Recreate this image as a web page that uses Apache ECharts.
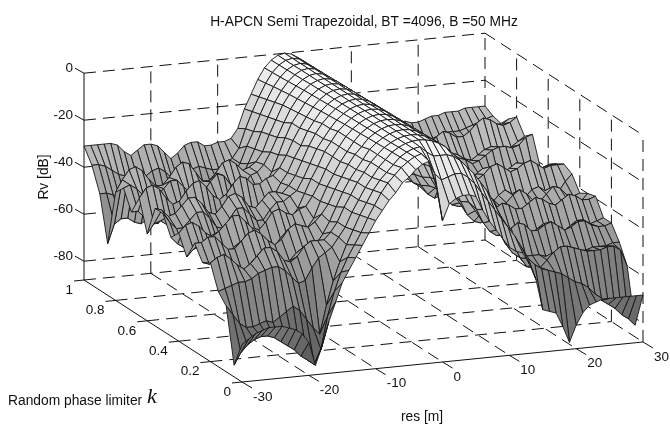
<!DOCTYPE html>
<html><head><meta charset="utf-8">
<style>html,body{margin:0;padding:0;background:#fff}#c{width:670px;height:428px}</style>
<script src="https://cdn.jsdelivr.net/npm/echarts@6/dist/echarts.min.js"></script>
</head><body><div id="c"></div>
<script>
// res axis: -30..30 step 1; rows below run k = 1.00 down to 0.00 step 0.05 (values in dB)
const k100=[-31,-31,-31,-31,-31,-32,-35,-37,-35,-33, -33,-34,-37,-40,-38,-35,-34,-34,-36,-36, -35,-35,-34,-30,-22,-16,-10,-5.4,-2.4,-.6, 0, -.6,-2.4,-5.4,-10,-16,-22,-29,-33,-35,-37, -36,-34,-33,-34,-36,-37,-35,-34,-35,-35, -34,-33,-33,-32,-32,-32,-31,-31,-31,-31];
const k095=[-37,-37,-38,-40,-42,-43,-45,-46,-44,-42, -41,-43,-46,-48,-46,-43,-42,-43,-44,-44, -42,-40,-36,-28,-21,-15,-9.5,-5.2,-2.3,-.6, 0, -.6,-2.3,-5.2,-9.5,-15,-21,-28,-36,-41,-43, -42,-40,-39,-41,-43,-44,-41,-40,-41,-41, -40,-39,-38,-38,-38,-37,-36,-35,-34,-33];
const k090=[-47,-47,-48,-50,-52,-51,-49,-48,-50,-52, -53,-52,-50,-49,-50,-52,-53,-51,-49,-46, -44,-40,-33,-27,-20,-14,-8.8,-5,-2.2,-.6, 0, -.6,-2.2,-5,-8.8,-14,-20,-27,-33,-39,-43, -45,-44,-43,-45,-47,-47,-45,-44,-45,-44, -43,-43,-41,-40,-40,-40,-38,-36,-35,-34];
const k085=[-66,-58,-56,-56,-58,-59,-57,-55,-55,-57, -59,-59,-57,-55,-55,-57,-58,-56,-53,-48, -44,-38,-32,-25,-19,-13,-8.3,-4.7,-2.1,-.5, 0, -.5,-2.1,-4.7,-8.3,-13,-19,-25,-32,-38,-44, -48,-48,-46,-48,-50,-49,-47,-46,-45,-42, -40,-38,-37,-37,-36,-35,-34,-33,-32,-30];
const k080=[-42,-37,-33,-32,-34,-38,-41,-41,-38,-34, -32,-33,-37,-41,-41,-38,-34,-33,-35,-38, -37,-35,-31,-24,-18,-12,-7.8,-4.4,-2,-.5, 0, -.5,-2,-4.4,-7.8,-12,-18,-24,-31,-35,-38, -37,-35,-33,-35,-38,-38,-35,-32,-30,-31, -33,-33,-31,-28,-26,-27,-29,-30,-29,-27];
const k075=[-38,-37,-39,-42,-44,-43,-40,-37,-37,-40, -43,-45,-43,-39,-36,-37,-41,-43,-42,-38, -37,-34,-29,-23,-17,-11.5,-7.4,-4.1,-1.8,-.5, 0, -.5,-1.8,-4.1,-7.4,-11.5,-17,-23,-29,-35,-40, -42,-40,-38,-39,-42,-44,-42,-39,-37,-38, -40,-41,-39,-37,-36,-37,-38,-37,-35,-33];
const k070=[-46,-46,-49,-52,-52,-49,-46,-46,-49,-52, -53,-50,-47,-45,-46,-50,-52,-50,-46,-43, -41,-35,-28,-21,-15,-11,-7,-3.9,-1.7,-.4, 0, -.4,-1.7,-3.9,-7,-11,-15,-21,-27,-33,-39, -43,-43,-41,-43,-46,-46,-42,-39,-37,-38, -40,-39,-37,-35,-34,-34,-35,-34,-31,-30];
const k065=[-38,-34,-33,-35,-39,-42,-41,-37,-34,-33, -36,-40,-42,-40,-36,-33,-34,-37,-37,-35, -34,-31,-26,-20,-15,-10.5,-6.6,-3.7,-1.6,-.4, 0, -.4,-1.6,-3.7,-6.6,-10.5,-15,-20,-26,-33,-39, -43,-45,-47,-48,-46,-44,-45,-48,-48,-45, -43,-44,-46,-47,-45,-43,-42,-44,-44,-42];
const k060=[-51,-47,-46,-48,-51,-53,-52,-48,-46,-47, -50,-53,-52,-48,-46,-47,-49,-48,-44,-40, -35,-31,-25,-20,-14,-10,-6.2,-3.5,-1.6,-.4, 0, -.4,-1.6,-3.5,-6.2,-10,-14,-19,-25,-31,-37, -42,-46,-48,-47,-44,-43,-45,-48,-47,-44, -42,-43,-45,-45,-43,-40,-40,-42,-42,-40];
const k055=[-38,-39,-42,-41,-38,-35,-35,-38,-42,-43, -40,-36,-35,-37,-41,-42,-39,-36,-36,-37, -34,-30,-24,-18,-13,-9,-5.9,-3.3,-1.5,-.4, 0, -.4,-1.5,-3.3,-5.9,-9,-13,-18,-24,-30,-36, -40,-41,-38,-36,-38,-41,-40,-37,-35,-36, -38,-38,-36,-34,-35,-37,-38,-37,-36,-36];
const k050=[-38,-42,-45,-45,-42,-39,-39,-42,-46,-47, -43,-39,-39,-42,-45,-45,-41,-38,-38,-36, -34,-29,-23,-17,-13,-9,-5.6,-3.2,-1.4,-.4, 0, -.4,-1.4,-3.2,-5.6,-9,-13,-17,-22,-28,-34, -39,-41,-38,-34,-33,-35,-37,-35,-32,-31, -33,-35,-34,-32,-31,-33,-35,-34,-34,-34];
const k045=[-46,-49,-51,-50,-47,-46,-47,-50,-52,-51, -48,-46,-47,-50,-52,-50,-46,-44,-43,-39, -33,-27,-22,-16,-12,-8,-5.3,-3,-1.3,-.3, 0, -.3,-1.3,-3,-5.3,-8,-12,-16,-21,-27,-33, -40,-44,-45,-42,-40,-42,-45,-45,-42,-40, -42,-45,-44,-41,-40,-42,-44,-43,-39,-36];
const k040=[-42,-39,-38,-40,-43,-45,-43,-40,-37,-37, -40,-43,-44,-41,-37,-36,-38,-39,-37,-36, -32,-27,-21,-16,-12,-8,-5.1,-2.9,-1.3,-.3, 0, -.3,-1.3,-2.9,-5.1,-8,-12,-16,-20,-26,-32, -37,-41,-43,-43,-39,-38,-41,-44,-43,-40, -38,-40,-43,-44,-41,-38,-39,-42,-43,-42];
const k035=[-50,-47,-46,-49,-52,-54,-52,-48,-46,-46, -49,-52,-53,-50,-46,-45,-46,-46,-43,-39, -32,-26,-21,-16,-12,-8,-4.9,-2.8,-1.2,-.3, 0, -.3,-1.2,-2.8,-4.9,-8,-11,-16,-20,-25,-32, -38,-44,-47,-48,-45,-43,-45,-48,-48,-45, -43,-44,-47,-47,-44,-42,-42,-44,-43,-40];
const k030=[-42,-42,-40,-40,-43,-46,-46,-43,-40,-39, -41,-44,-46,-44,-40,-38,-39,-40,-38,-35, -31,-25,-20,-15,-11,-8,-4.7,-2.7,-1.2,-.3, 0, -.3,-1.2,-2.7,-4.7,-8,-11,-15,-19,-24,-30, -36,-40,-41,-42,-40,-38,-39,-41,-41,-39, -37,-38,-40,-41,-39,-37,-38,-40,-40,-39];
const k025=[-48,-49,-48,-48,-50,-53,-54,-51,-48,-47, -49,-52,-54,-51,-48,-46,-46,-45,-41,-36, -30,-24,-19,-15,-11,-7,-4.5,-2.6,-1.2,-.3, 0, -.3,-1.2,-2.6,-4.5,-7,-11,-14,-19,-24,-30, -37,-43,-47,-49,-49,-47,-48,-50,-50,-48, -46,-47,-49,-50,-48,-46,-46,-48,-47,-46];
const k020=[-46,-44,-43,-45,-48,-50,-48,-45,-42,-42, -44,-48,-49,-47,-43,-41,-41,-41,-38,-34, -28,-23,-18,-14,-10,-7,-4.3,-2.5,-1.1,-.3, 0, -.3,-1.1,-2.5,-4.3,-7,-10,-14,-18,-23,-29, -35,-40,-44,-46,-44,-42,-43,-46,-46,-44, -43,-45,-47,-46,-44,-44,-46,-47,-47,-46];
const k015=[-56,-55,-54,-53,-53,-52,-50,-49,-48,-48, -50,-53,-56,-55,-50,-46,-44,-42,-38,-34, -28,-23,-18,-14,-10,-7,-4.1,-2.3,-1,-.3, 0, -.3,-1,-2.3,-4.1,-7,-10,-14,-18,-23,-29, -35,-42,-48,-52,-54,-54,-54,-54,-55,-55, -54,-54,-54,-54,-54,-53,-53,-53,-52,-52];
const k010=[-60,-64,-68,-70,-70,-69,-68,-69,-67,-65, -63,-65,-69,-73,-76,-64,-54,-46,-39,-33, -27,-22,-17,-13,-10,-7,-4,-2.2,-1,-.5, -3, -5,-5,-5,-6,-8,-11,-14,-18,-22,-27, -33,-39,-46,-52,-56,-57,-57,-54,-51,-49, -49,-50,-51,-52,-52,-52,-51,-51,-53,-60];
const k005=[-83,-78,-75,-73,-72,-72,-73,-75,-77,-79, -82,-84,-86,-80,-66,-56,-48,-42,-37,-32, -26,-21,-16,-12,-9,-6,-3.8,-2,-1,-4, -10, -13,-12,-11,-11,-13,-16,-20,-24,-28,-32, -36,-40,-45,-50,-53,-55,-56,-57,-58,-60, -62,-63,-65,-68,-71,-73,-75,-78,-80,-83];
const k000=[-72,-70,-68,-67,-66,-66,-66,-67,-68,-70, -74,-84,-76,-66,-58,-50,-45,-40,-35,-30, -25,-21,-17,-14,-10,-8,-5,-3,-2,-12, -28, -21,-19,-18,-18,-19,-25,-30,-34,-38,-42, -44,-45,-50,-57,-70,-71,-72,-78,-85,-78, -73,-70,-69,-68,-68,-68,-68,-68,-68,-68];
const rows=[k100,k095,k090,k085,k080,k075,k070,k065,k060,k055,k050,k045,k040,k035,k030,k025,k020,k015,k010,k005,k000];

const titleText='H-APCN Semi Trapezoidal, BT =4096, B =50 MHz';
const zTicks=[0,-20,-40,-60,-80];
const kTicks=[1,0.8,0.6,0.4,0.2,0];
const resTicks=[-30,-20,-10,0,10,20,30];
const zFloor=-88, zTop=0;

// Oblique projection of (res, k, dB) onto the chart plane
function project(res,k,z){
  return [242+(res+30)/60*401-k*158, 382-(res+30)/60*40-k*102-(z-zFloor)*2.35];
}
const segs=[];
function seg(a,b,dash){segs.push([project(...a),project(...b),dash]);}
zTicks.forEach(z=>{seg([-30,1,z],[30,1,z],1);seg([30,1,z],[30,0,z],1);});
resTicks.slice(1).forEach(r=>{seg([r,1,zFloor],[r,1,zTop],1);});
kTicks.slice(1).forEach(k=>{seg([30,k,zFloor],[30,k,zTop],1);});
resTicks.slice(1).forEach(r=>{seg([r,1,zFloor],[r,0,zFloor],1);});
kTicks.slice(0,-1).forEach(k=>{seg([-30,k,zFloor],[30,k,zFloor],1);});
seg([-30,1,zFloor],[-30,1,zTop],0);
seg([-30,1,zFloor],[-30,0,zFloor],0);
seg([-30,0,zFloor],[30,0,zFloor],0);
const tickSegs=[];
zTicks.forEach(z=>{const p=project(-30,1,z);tickSegs.push([p,[p[0]-9,p[1]-5]]);});
kTicks.forEach(k=>{const p=project(-30,k,zFloor);tickSegs.push([p,[p[0]-10,p[1]+1]]);});
resTicks.forEach(r=>{const p=project(r,0,zFloor);tickSegs.push([p,[p[0]+10,p[1]+6]]);});

const labels=[];
zTicks.forEach(z=>{const p=project(-30,1,z);labels.push([p[0]-11,p[1]-5,String(z),'right']);});
kTicks.forEach(k=>{const p=project(-30,k,zFloor);labels.push([p[0]-11,p[1]+10,String(k),'right']);});
resTicks.forEach(r=>{const p=project(r,0,zFloor);labels.push([p[0]+11,p[1]+15,String(r),'left']);});

// Painter order: back rows first, far columns first
const quads=[];
for(let i=0;i<rows.length-1;i++)for(let j=rows[i].length-2;j>=0;j--)quads.push([i,j]);
const res=j=>j-30, kv=i=>1-i*0.05;

const chart=echarts.init(document.getElementById('c'),null,{renderer:'canvas'});
chart.setOption({
  animation:false,
  backgroundColor:'#fff',
  title:{text:titleText,left:359,top:10,textAlign:'center',textStyle:{fontFamily:'Liberation Sans',fontSize:13.8,fontWeight:'normal',color:'#111'}},
  grid:{left:0,right:0,top:0,bottom:0},
  xAxis:{type:'value',min:0,max:670,show:false},
  yAxis:{type:'value',min:0,max:428,inverse:true,show:false},
  series:[
   {type:'custom',coordinateSystem:'cartesian2d',silent:true,clip:false,progressive:0,z:1,data:segs.map((s,i)=>[i]),
    renderItem:(p,api)=>{const s=segs[api.value(0)];const a=api.coord(s[0]),b=api.coord(s[1]);
      return {type:'line',shape:{x1:a[0],y1:a[1],x2:b[0],y2:b[1]},style:{stroke:'#111',lineWidth:1,lineDash:s[2]?[12,7]:null,fill:null}};}},
   {type:'custom',coordinateSystem:'cartesian2d',silent:true,clip:false,progressive:0,z:1,data:tickSegs.map((s,i)=>[i]),
    renderItem:(p,api)=>{const s=tickSegs[api.value(0)];const a=api.coord(s[0]),b=api.coord(s[1]);
      return {type:'line',shape:{x1:a[0],y1:a[1],x2:b[0],y2:b[1]},style:{stroke:'#111',lineWidth:1,fill:null}};}},
   {type:'custom',coordinateSystem:'cartesian2d',silent:true,clip:false,progressive:0,z:2,data:quads,
    renderItem:(p,api)=>{const i=api.value(0),j=api.value(1);
      const c=[[i,j],[i,j+1],[i+1,j+1],[i+1,j]];
      let sum=0;const pts=c.map(q=>{const z=rows[q[0]][q[1]];sum+=z;return api.coord(project(res(q[1]),kv(q[0]),z));});
      const g=Math.max(0,Math.min(1,1+sum/4/130));const v=Math.round(g*250);
      return {type:'polygon',shape:{points:pts},style:{fill:`rgb(${v},${v},${v})`,stroke:'#161616',lineWidth:0.9}};}},
   {type:'custom',coordinateSystem:'cartesian2d',silent:true,clip:false,progressive:0,z:3,data:labels.map((s,i)=>[i]),
    renderItem:(p,api)=>{const s=labels[api.value(0)];const a=api.coord([s[0],s[1]]);
      return {type:'text',style:{x:a[0],y:a[1],text:s[2],textAlign:s[3],textVerticalAlign:'middle',fill:'#111',font:'13.5px "Liberation Sans"'}};}}
  ],
  graphic:[
   {type:'text',x:44,y:177,rotation:Math.PI/2,style:{text:'Rv [dB]',textAlign:'center',textVerticalAlign:'middle',fill:'#111',font:'13.8px "Liberation Sans"'}},
   {type:'text',x:422,y:417,style:{text:'res [m]',textAlign:'center',textVerticalAlign:'middle',fill:'#111',font:'13.8px "Liberation Sans"'}},
   {type:'text',x:8,y:401,style:{text:'Random phase limiter',textAlign:'left',textVerticalAlign:'middle',fill:'#111',font:'13.8px "Liberation Sans"'}},
   {type:'text',x:147,y:397,style:{text:'k',textAlign:'left',textVerticalAlign:'middle',fill:'#111',font:'italic 22px "Liberation Serif"'}}
  ]
});
</script></body></html>
